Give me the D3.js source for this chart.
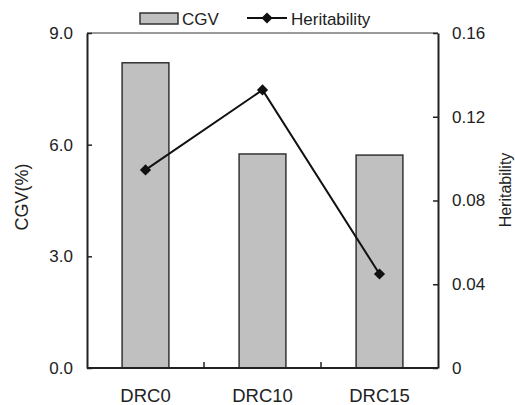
<!DOCTYPE html>
<html>
<head>
<meta charset="utf-8">
<script src="https://cdn.jsdelivr.net/npm/d3@7"></script>
<style>
  body { margin: 0; background: #fff; }
  text { font-family: "Liberation Sans", Arial, sans-serif; fill: #222; }
</style>
</head>
<body>
<div id="chart"></div>
<script>
// data
var categories = ["DRC0", "DRC10", "DRC15"];
var cgvValues = [8.20, 5.75, 5.72];
var heritValues = [0.0946, 0.1328, 0.0449];
var leftTicks = [0, 3, 6, 9];
var rightTicks = [0, 0.04, 0.08, 0.12, 0.16];

var W = 515, H = 405;
var margin = { top: 33, right: 77, bottom: 37, left: 87 };
var width = W - margin.left - margin.right,
    height = H - margin.top - margin.bottom;

var svg = d3.select("#chart").append("svg")
    .attr("width", W)
    .attr("height", H);

var g = svg.append("g")
    .attr("transform", "translate(" + margin.left + "," + margin.top + ")");

// scales
var x = d3.scaleBand()
    .domain(categories)
    .range([0, width])
    .paddingInner(0.6)
    .paddingOuter(0.3);

var yL = d3.scaleLinear().domain([0, 9]).range([height, 0]);
var yR = d3.scaleLinear().domain([0, 0.16]).range([height, 0]);

// top border (lighter)
g.append("line")
    .attr("x1", 0).attr("x2", width)
    .attr("y1", 0).attr("y2", 0)
    .attr("stroke", "#9a9a9a")
    .attr("stroke-width", 2);

// bars
g.selectAll("rect.bar")
    .data(cgvValues)
    .enter().append("rect")
    .attr("class", "bar")
    .attr("x", function(d, i){ return x(categories[i]); })
    .attr("y", function(d){ return yL(d); })
    .attr("width", x.bandwidth())
    .attr("height", function(d){ return height - yL(d); })
    .attr("fill", "#c0c0c0")
    .attr("stroke", "#333")
    .attr("stroke-width", 1.5);

// left axis
var axL = d3.axisLeft(yL)
    .tickValues(leftTicks)
    .tickSizeInner(-5)
    .tickSizeOuter(0)
    .tickPadding(14)
    .tickFormat(d3.format(".1f"));
var gL = g.append("g").call(axL);

// right axis
var axR = d3.axisRight(yR)
    .tickValues(rightTicks)
    .tickSizeInner(-5)
    .tickSizeOuter(0)
    .tickPadding(14)
    .tickFormat(function(d){ return d === 0 ? "0" : d3.format(".2f")(d); });
var gR = g.append("g")
    .attr("transform", "translate(" + width + ",0)")
    .call(axR);

// bottom axis: ticks at band boundaries
var bounds = categories.slice(1).map(function(c){ return x(c) - x.step() * x.paddingInner() / 2; });
var gB = g.append("g")
    .attr("transform", "translate(0," + height + ")");
gB.append("line")
    .attr("x1", 0).attr("x2", width)
    .attr("stroke", "#222").attr("stroke-width", 2);
gB.selectAll("line.tk")
    .data(bounds)
    .enter().append("line")
    .attr("class", "tk")
    .attr("x1", function(d){ return d; }).attr("x2", function(d){ return d; })
    .attr("y1", 0).attr("y2", -6)
    .attr("stroke", "#222").attr("stroke-width", 1.5);
gB.selectAll("text")
    .data(categories)
    .enter().append("text")
    .attr("x", function(d){ return x(d) + x.bandwidth() / 2; })
    .attr("y", 34)
    .attr("text-anchor", "middle")
    .style("font-size", "18.5px")
    .text(function(d){ return d; });

[gL, gR].forEach(function(ax){
    ax.select(".domain").attr("stroke", "#222").attr("stroke-width", 2);
    ax.selectAll(".tick line").attr("stroke", "#222").attr("stroke-width", 1.5);
    ax.selectAll(".tick text")
        .style("font-size", "17px")
        .style("font-family", "'Liberation Sans', Arial, sans-serif")
        .attr("fill", "#222");
});

// heritability line
var line = d3.line()
    .x(function(d, i){ return x(categories[i]) + x.bandwidth() / 2; })
    .y(function(d){ return yR(d); });

g.append("path")
    .datum(heritValues)
    .attr("d", line)
    .attr("fill", "none")
    .attr("stroke", "#111")
    .attr("stroke-width", 2);

var diamond = d3.symbol().type(d3.symbolDiamond2).size(80);
g.selectAll("path.pt")
    .data(heritValues)
    .enter().append("path")
    .attr("class", "pt")
    .attr("d", diamond)
    .attr("transform", function(d, i){
        return "translate(" + (x(categories[i]) + x.bandwidth() / 2) + "," + yR(d) + ")";
    })
    .attr("fill", "#111");

// axis titles
svg.append("text")
    .attr("transform", "translate(28,197) rotate(-90)")
    .attr("text-anchor", "middle")
    .style("font-size", "18px")
    .text("CGV(%)");

svg.append("text")
    .attr("transform", "translate(511,190) rotate(-90)")
    .attr("text-anchor", "middle")
    .style("font-size", "16px")
    .text("Heritability");

// legend
var leg = svg.append("g");
leg.append("rect")
    .attr("x", 140).attr("y", 13)
    .attr("width", 38).attr("height", 11)
    .attr("fill", "#c0c0c0")
    .attr("stroke", "#333").attr("stroke-width", 1.5);
leg.append("text")
    .attr("x", 182).attr("y", 25)
    .style("font-size", "17px")
    .text("CGV");
leg.append("line")
    .attr("x1", 247).attr("x2", 287)
    .attr("y1", 18).attr("y2", 18)
    .attr("stroke", "#111").attr("stroke-width", 2);
leg.append("path")
    .attr("d", diamond)
    .attr("transform", "translate(267,18)")
    .attr("fill", "#111");
leg.append("text")
    .attr("x", 291).attr("y", 25)
    .style("font-size", "17px")
    .text("Heritability");
</script>
</body>
</html>
